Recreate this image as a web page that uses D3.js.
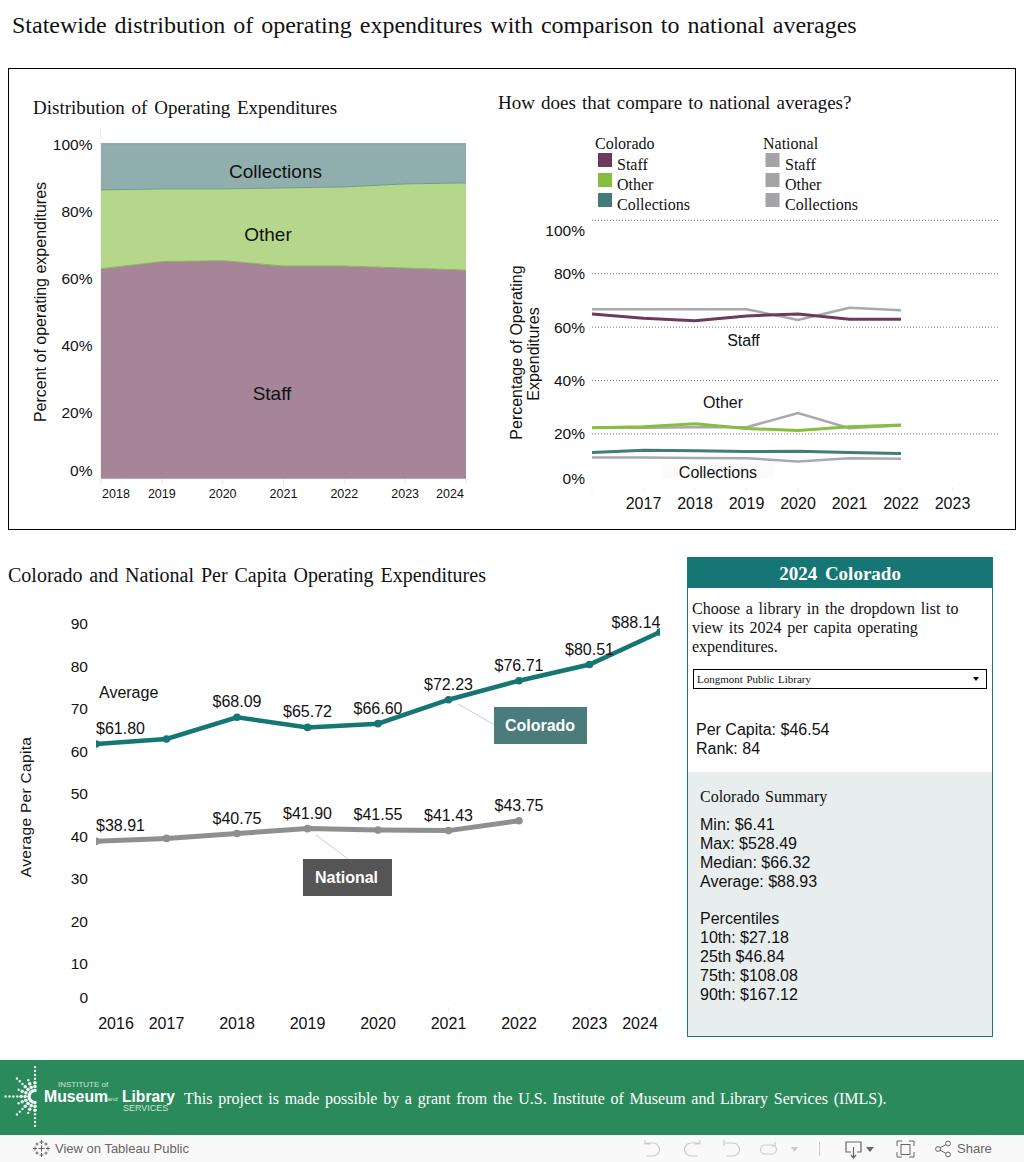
<!DOCTYPE html>
<html><head><meta charset="utf-8">
<script src="https://cdn.jsdelivr.net/npm/d3@7"></script>
<style>html,body{margin:0;padding:0;background:#fff;overflow:hidden}svg{display:block}</style>
</head><body><svg id="c" width="1024" height="1162"></svg>
<script>
const shareYears=[2018,2019,2020,2021,2022,2023,2024];
const shareStaff=[62.7,64.8,65.1,63.5,63.5,62.9,62.3];
const shareOther=[23.5,21.7,21.4,23.3,23.6,25.1,26.0];
const shareCollections=[13.8,13.5,13.5,13.2,12.9,12.0,11.7];
const compareYears=[2016,2017,2018,2019,2020,2021,2022];
const compareTicks=[2017,2018,2019,2020,2021,2022,2023];
const coStaff=[64.9,63.3,62.4,64.2,64.9,62.9,62.9];
const natStaff=[66.7,66.7,66.7,66.7,62.7,67.2,66.3];
const coOther=[22.3,22.7,23.8,22.0,21.3,22.7,23.3];
const natOther=[22.3,22.3,22.5,22.5,27.8,22.1,23.1];
const coCollections=[13.0,13.9,13.7,13.4,13.5,13.0,12.7];
const natCollections=[11.2,11.2,11.0,10.9,9.7,10.9,10.7];
const capitaYears=[2016,2017,2018,2019,2020,2021,2022,2023,2024];
const capitaColorado=[61.80,63.0,68.09,65.72,66.60,72.23,76.71,80.51,88.14];
const capitaNational=[38.91,39.6,40.75,41.90,41.55,41.43,43.75];
const capitaTicks=[0,10,20,30,40,50,60,70,80,90];
const pctTicks=[0,20,40,60,80,100];
const summaryLines=["Min: $6.41","Max: $528.49","Median: $66.32","Average: $88.93"];
const percentileLines=["10th: $27.18","25th $46.84","75th: $108.08","90th: $167.12"];
const introLines=["Choose a library in the dropdown list to","view its 2024 per capita operating","expenditures."];

const SANS='"Liberation Sans",Arial,sans-serif',SERIF='"Liberation Serif","Times New Roman",serif';
const svg=d3.select('#c');
function T(x,y,s,o={}){
  return svg.append('text').attr('x',x).attr('y',y).attr('dominant-baseline','central')
   .attr('font-family',o.f||SANS).attr('font-size',o.s||15).attr('fill',o.c||'#111')
   .attr('text-anchor',o.a||'start').attr('font-weight',o.w||'normal')
   .attr('word-spacing',o.ws||0).attr('letter-spacing',o.ls||0)
   .attr('transform',o.r?`rotate(${o.r} ${x} ${y})`:null).text(s);
}
const serif=(x,y,s,size,ws,o={})=>T(x,y-.7,s,{f:SERIF,s:size,ws,...o});

svg.append('rect').attr('width',1024).attr('height',1162).attr('fill','#fff');
serif(12,26,"Statewide distribution of operating expenditures with comparison to national averages",24,1.95);
svg.append('rect').attr('x',8.5).attr('y',68.5).attr('width',1007).attr('height',461).attr('fill','none').attr('stroke','#000');

/* ---------- stacked area ---------- */
serif(33,108,"Distribution of Operating Expenditures",19,2);
const ax=d3.scaleLinear().domain([2018,2024]).range([101,466]);
const ay=d3.scaleLinear().domain([0,100]).range([478.7,143.7]);
const stackRows=shareYears.map((y,i)=>({y,Staff:shareStaff[i],Other:shareOther[i],Collections:shareCollections[i]}));
const stacks=d3.stack().keys(["Staff","Other","Collections"])(stackRows);
const fills={Staff:'#a68599',Other:'#b5d78b',Collections:'#91aeae'},edges={Staff:'#8db45f',Other:'#6f9c8a',Collections:'#78a0a0'};
const ar=d3.area().x(d=>ax(d.data.y)).y0(d=>ay(d[0])).y1(d=>ay(d[1]));
const tl=d3.line().x(d=>ax(d.data.y)).y(d=>ay(d[1]));
svg.selectAll('.ar').data(stacks).join('path').attr('d',ar).attr('fill',d=>fills[d.key]);
svg.selectAll('.tl').data(stacks).join('path').attr('d',tl).attr('fill','none').attr('stroke',d=>edges[d.key]).attr('stroke-width',1);
svg.append('line').attr('x1',100.5).attr('x2',100.5).attr('y1',127).attr('y2',484).attr('stroke','#f0f0f0');
svg.selectAll('.xt').data(shareYears).join('line').attr('x1',d=>ax(d)).attr('x2',d=>ax(d)).attr('y1',479).attr('y2',484).attr('stroke','#e6e6e6');
shareYears.forEach(y=>T(y==2018?116:y==2024?450:ax(y),494,y,{s:12.5,a:'middle'}));
pctTicks.forEach(p=>T(92.5,p==0?470:ay(p)+.5,p+'%',{s:15.5,a:'end'}));
T(40,302,"Percent of operating expenditures",{s:16,a:'middle',r:-90});
T(275.5,171.5,"Collections",{s:19,a:'middle'});
T(268,234.5,"Other",{s:19,a:'middle'});
T(272,393.5,"Staff",{s:19,a:'middle'});

/* ---------- comparison lines ---------- */
serif(498,103,"How does that compare to national averages?",19,1.4);
const lg=[['Colorado',595,598,617,['#6d3a5e','#86bf3f','#437a7a']],['National',763,765.5,785,['#a3a3a8','#a3a3a8','#a3a3a8']]];
lg.forEach(([name,tx,sx,lx,cols])=>{
  serif(tx,144,name,16,0);
  ["Staff","Other","Collections"].forEach((k,i)=>{
    svg.append('rect').attr('x',sx).attr('y',153+i*20).attr('width',14).attr('height',14).attr('fill',cols[i]);
    serif(lx,165+i*20,k,16,0);
  });
});
const bx=d3.scaleLinear().domain([2016,2022]).range([592,901]);
const by=d3.scaleLinear().domain([0,100]).range([487.3,220.3]);
[20,40,60,80,100].forEach(p=>svg.append('line').attr('x1',592).attr('x2',1000).attr('y1',by(p)).attr('y2',by(p)).attr('stroke','#777').attr('stroke-dasharray','1 2'));
d3.range(2016,2024).forEach(y=>svg.append('line').attr('x1',bx(y)).attr('x2',bx(y)).attr('y1',487).attr('y2',491).attr('stroke','#eee'));
svg.append('rect').attr('x',662).attr('y',462).attr('width',113).attr('height',17).attr('fill','#fcfcfc');
compareTicks.forEach(y=>T(bx(y),503,y,{s:16,a:'middle'}));
pctTicks.forEach(p=>T(585,p==100?230:p==0?478:by(p),p+'%',{s:15.5,a:'end'}));
const bl=d3.line().x((d,i)=>bx(compareYears[i])).y(d=>by(d));
[[natStaff,'#a8a8ad',2.5],[natOther,'#a8a8ad',2.5],[natCollections,'#a8a8ad',2.5],[coStaff,'#6d3a5e',3],[coOther,'#86bf3f',3],[coCollections,'#437a7a',3]].forEach(([v,c,w])=>
  svg.append('path').attr('d',bl(v)).attr('fill','none').attr('stroke',c).attr('stroke-width',w));
T(516,352.5,"Percentage of Operating",{s:16,a:'middle',r:-90});
T(533,354,"Expenditures",{s:16,a:'middle',r:-90});
T(743.5,340,"Staff",{s:16,a:'middle'});
T(723,402.5,"Other",{s:16,a:'middle'});
T(718,472,"Collections",{s:16,a:'middle'});

/* ---------- per capita ---------- */
serif(8,576,"Colorado and National Per Capita Operating Expenditures",20,1.9);
const cx=d3.scaleLinear().domain([2016,2024]).range([96,660]);
const cy=d3.scaleLinear().domain([0,90]).range([1006.7,624.2]);
capitaYears.forEach(y=>{
  svg.append('line').attr('x1',cx(y)).attr('x2',cx(y)).attr('y1',1007).attr('y2',1011).attr('stroke','#eee');
  T(y==2016?116:y==2024?640:cx(y),1023.5,y,{s:16,a:'middle'});
});
capitaTicks.forEach(t=>T(88,t==0?997:cy(t)-.5,t,{s:15.5,a:'end'}));
T(25,807,"Average Per Capita",{s:15.5,a:'middle',r:-90,ls:.3});
T(99,692.5,"Average",{s:16});
const cl=(v)=>d3.line().x((d,i)=>cx(capitaYears[i])).y(d=>cy(d))(v);
svg.append('clipPath').attr('id','cp').append('rect').attr('x',96).attr('y',600).attr('width',564).attr('height',420);
svg.append('line').attr('x1',458).attr('y1',704).attr('x2',495).attr('y2',725).attr('stroke','#ccc');
svg.append('line').attr('x1',316).attr('y1',835).attr('x2',348).attr('y2',859).attr('stroke','#ccc');
const groups=[[capitaNational,'#8f8f8f',5],[capitaColorado,'#167673',4.5]];
const g=svg.append('g').attr('clip-path','url(#cp)');
groups.forEach(([v,c,w])=>{
  g.append('path').attr('d',cl(v)).attr('fill','none').attr('stroke',c).attr('stroke-width',w);
  g.selectAll(null).data(v).join('circle').attr('cx',(d,i)=>cx(capitaYears[i])).attr('cy',d=>cy(d)).attr('r',3.8).attr('fill',c);
});
[capitaColorado,capitaNational].forEach(v=>v.forEach((d,i)=>{
  const yr=capitaYears[i]; if(yr==2017)return;
  const x=yr==2016?120.5:yr==2024?636:cx(yr);
  T(x,cy(d)-(yr==2024?10:15.5),'$'+d.toFixed(2),{s:16,a:'middle'});
}));
svg.append('rect').attr('x',494).attr('y',707).attr('width',93).attr('height',37).attr('fill','#4a7c7c');
T(540,725.5,"Colorado",{s:16,a:'middle',c:'#fff',w:'bold'});
svg.append('rect').attr('x',303).attr('y',859).attr('width',89).attr('height',37).attr('fill','#555');
T(346.5,877.5,"National",{s:16,a:'middle',c:'#fff',w:'bold'});

/* ---------- panel ---------- */
svg.append('rect').attr('x',687.5).attr('y',772).attr('width',305).attr('height',265).attr('fill','#e8eeee');
svg.append('rect').attr('x',687.5).attr('y',557.5).attr('width',305).attr('height',479).attr('fill','none').attr('stroke','#167673');
svg.append('rect').attr('x',687).attr('y',557).attr('width',306).attr('height',31).attr('fill','#167673');
serif(840,574,"2024 Colorado",19,3,{a:'middle',c:'#fff',w:'bold'});
introLines.forEach((l,i)=>serif(692,609+i*19,l,16,1.7));
svg.append('rect').attr('x',693.5).attr('y',669.5).attr('width',293).attr('height',19).attr('fill','#fff').attr('stroke','#000');
serif(697,679.5,"Longmont Public Library",11,.8);
svg.append('path').attr('d','M973 677h6l-3 4z').attr('fill','#000');
T(696,729.5,"Per Capita: $46.54",{s:16});
T(696,748.5,"Rank: 84",{s:16});
serif(700,797,"Colorado Summary",16,1.5);
summaryLines.forEach((l,i)=>T(700,824+i*19,l,{s:16}));
T(700,918.5,"Percentiles",{s:16});
percentileLines.forEach((l,i)=>T(700,937.5+i*19,l,{s:16}));

/* ---------- footer ---------- */
svg.append('rect').attr('y',1060).attr('width',1024).attr('height',75).attr('fill','#2a8a5c');
svg.append('rect').attr('y',1135).attr('width',1024).attr('height',27).attr('fill','#f9f9f9');
d3.range(0,9).forEach(k=>{
  const a=Math.PI/2+k*Math.PI/8;
  const len=k%4==0?32:k%2==0?27:18;
  for(let r=6;r<=len;r+=3.9){
    svg.append('circle').attr('cx',35+r*Math.cos(a)).attr('cy',1096.5-r*Math.sin(a)).attr('r',r<14?1.8:1.2).attr('fill','#fff').attr('opacity',.92);
  }
});
T(58,1084.5,"INSTITUTE of",{s:8,c:'#cfe3d8'});
T(44,1096,"Museum",{s:15.8,c:'#fff',w:'bold'});
T(107.5,1099,"and",{s:6,c:'#cfe3d8'});
T(122,1096,"Library",{s:15.6,c:'#fff',w:'bold'});
T(123,1108,"SERVICES",{s:9,c:'#cfe3d8'});
serif(184,1099,"This project is made possible by a grant from the U.S. Institute of Museum and Library Services (IMLS).",16,1.7,{c:'#fff'});
const P=(d,c='#ccc',w=1.2)=>svg.append('path').attr('d',d).attr('fill','none').attr('stroke',c).attr('stroke-width',w);
[[41.5,1148.5,3],[41.5,1142,2],[41.5,1155,2],[35,1148.5,2],[48,1148.5,2],[37,1144,1.5],[46,1144,1.5],[37,1153,1.5],[46,1153,1.5]].forEach(([x,y,s])=>P(`M${x-s} ${y}h${2*s}M${x} ${y-s}v${2*s}`,'#666',1));
T(55,1148.5,"View on Tableau Public",{s:13,c:'#666'});
P('M645 1143h8a6.5 6.5 0 0 1 0 13h-7M645 1140v4h5');
P('M699 1143h-8a6.5 6.5 0 0 0 0 13h7M700 1140v4h-5');
P('M725 1143h8a6.5 6.5 0 0 1 0 13h-7M724 1140v6');
P('M765 1145a4.5 4.5 0 0 0 0 9h7a4.5 4.5 0 0 0 0-9h-8M775 1142v4h-3');
svg.append('path').attr('d','M791 1147h7l-3.5 5z').attr('fill','#ccc');
P('M819.5 1142v14','#ccc',1);
P('M851 1152h-5v-10h15v10h-4M853.5 1147v10M851 1155l2.5 3 2.5-3','#666');
svg.append('path').attr('d','M866 1147h8l-4 5z').attr('fill','#666');
svg.append('rect').attr('x',901).attr('y',1144.5).attr('width',9).attr('height',10).attr('fill','none').attr('stroke','#666');
P('M897 1146v-5h5M909 1141h5v5M914 1152v5h-5M902 1157h-5v-5','#666',1);
P('M938 1149l9-5M938 1149l9 5','#666',1);
[[938,1149],[948,1143.5],[948,1154.5]].forEach(([x,y])=>svg.append('circle').attr('cx',x).attr('cy',y).attr('r',2.4).attr('fill','#f9f9f9').attr('stroke','#666'));
T(957,1148.5,"Share",{s:13,c:'#666',w:'500'});
</script></body></html>
